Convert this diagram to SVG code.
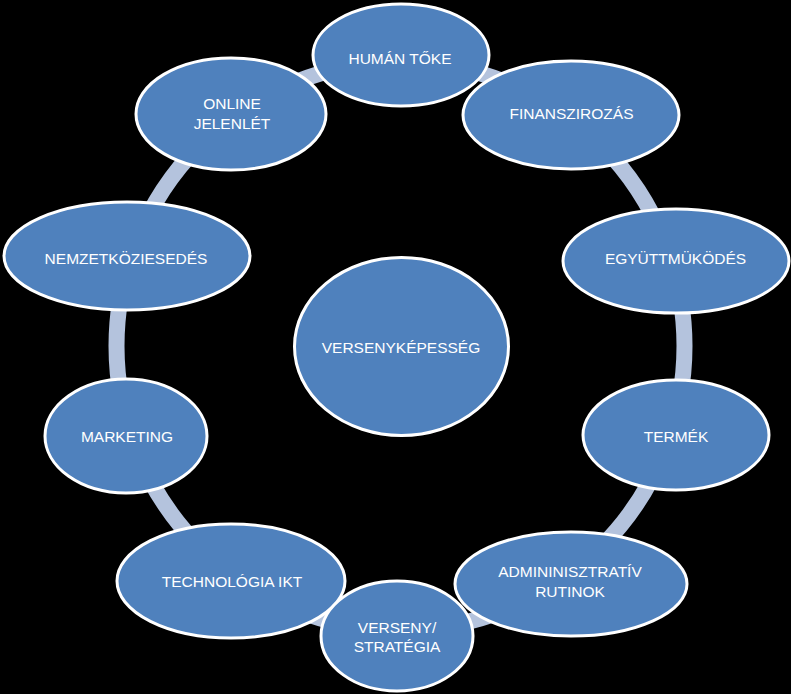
<svg xmlns="http://www.w3.org/2000/svg" width="791" height="694" viewBox="0 0 791 694">
<style>
.n{fill:#4f81bd;stroke:#ffffff;stroke-width:3}
.t{font-family:"Liberation Sans","DejaVu Sans",sans-serif;font-size:15.5px;fill:#ffffff;text-anchor:middle}
.ring{fill:none;stroke:#b4c3dd;stroke-width:16}
</style>
<rect x="0" y="0" width="791" height="694" fill="#000000"/>
<g id="connectors">
<circle class="ring" cx="400.5" cy="346" r="284"/>
</g>
<g id="versenykepesseg">
<ellipse class="n" cx="401.5" cy="346.5" rx="107" ry="89"/>
<text class="t" x="401" y="353">VERSENYKÉPESSÉG</text>
</g>
<g id="human-toke">
<ellipse class="n" cx="401" cy="55" rx="88" ry="51"/>
<text class="t" x="400" y="64">HUMÁN TŐKE</text>
</g>
<g id="finanszirozas">
<ellipse class="n" cx="571" cy="115" rx="108" ry="54"/>
<text class="t" x="571.5" y="119">FINANSZIROZÁS</text>
</g>
<g id="egyuttmukodes">
<ellipse class="n" cx="676" cy="261" rx="113" ry="52"/>
<text class="t" x="675.5" y="264">EGYÜTTMÜKÖDÉS</text>
</g>
<g id="termek">
<ellipse class="n" cx="676" cy="435" rx="93" ry="55"/>
<text class="t" x="676" y="442">TERMÉK</text>
</g>
<g id="admin-rutinok">
<ellipse class="n" cx="571" cy="584" rx="116" ry="52"/>
<text class="t" x="570" y="577">ADMININISZTRATÍV</text>
<text class="t" x="570" y="597">RUTINOK</text>
</g>
<g id="technologia-ikt">
<ellipse class="n" cx="231" cy="581" rx="114" ry="57"/>
<text class="t" x="232" y="587">TECHNOLÓGIA IKT</text>
</g>
<g id="verseny-strategia">
<ellipse class="n" cx="397" cy="636" rx="76" ry="55"/>
<text class="t" x="397" y="633">VERSENY/</text>
<text class="t" x="397" y="652">STRATÉGIA</text>
</g>
<g id="marketing">
<ellipse class="n" cx="126" cy="436" rx="81" ry="57"/>
<text class="t" x="127" y="442">MARKETING</text>
</g>
<g id="nemzetkoziesedes">
<ellipse class="n" cx="127" cy="256" rx="123" ry="54"/>
<text class="t" x="126" y="264">NEMZETKÖZIESEDÉS</text>
</g>
<g id="online-jelenlet">
<ellipse class="n" cx="231" cy="114" rx="95" ry="56"/>
<text class="t" x="232" y="109">ONLINE</text>
<text class="t" x="232" y="129">JELENLÉT</text>
</g>
</svg>
